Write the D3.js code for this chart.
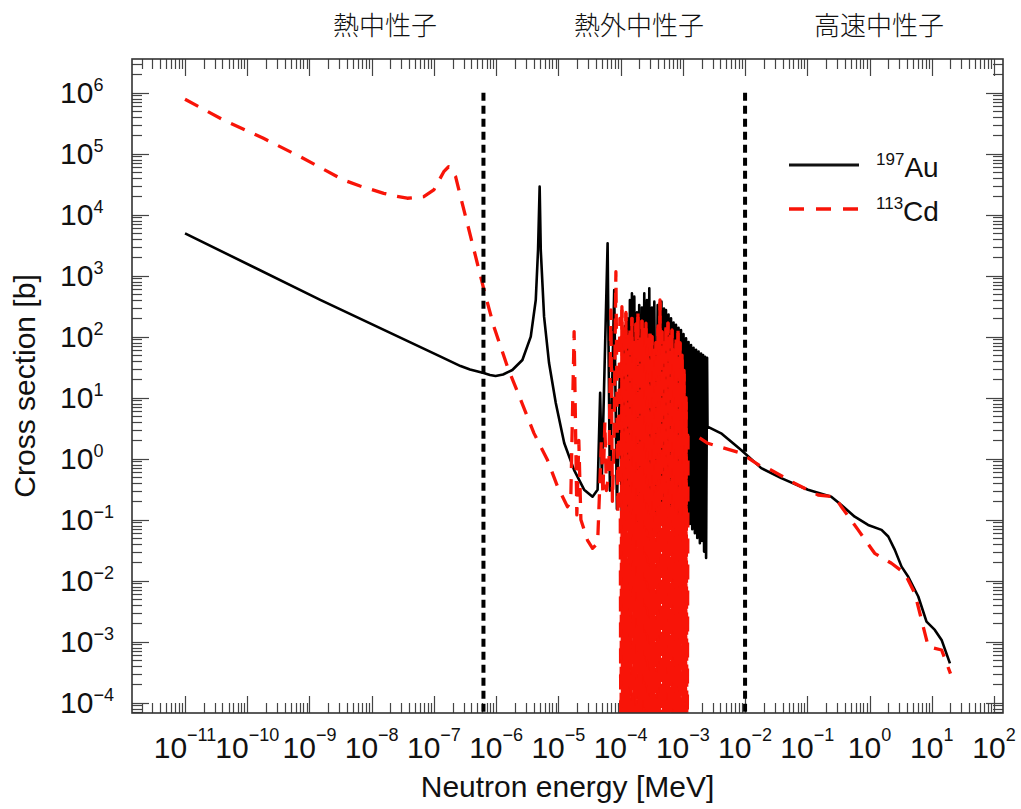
<!DOCTYPE html>
<html><head><meta charset="utf-8">
<script src="https://cdn.jsdelivr.net/npm/d3@7"></script>
<style>body{margin:0;background:#fff}svg{display:block}</style>
</head><body>
<svg id="chart" width="1021" height="809"></svg>
<script>
// ---------------- DATA ----------------
const xTickExps = [-11,-10,-9,-8,-7,-6,-5,-4,-3,-2,-1,0,1,2];
const yTickExps = [-4,-3,-2,-1,0,1,2,3,4,5,6];
const regionLabels = ["熱中性子", "熱外中性子", "高速中性子"];
const regionBounds = [6.25e-7, 1e-2];          // MeV
const seriesNames = [["197", "Au"], ["113", "Cd"]];

// 197Au : [energy MeV, cross section b]
const auLow = [[1e-11,4950],[1.49e-9,400],[1.28e-7,47],[2.68e-7,33],[3.8e-7,29],[6.3e-7,25.4],[7.96e-7,23.6],
  [9.8e-7,22.7],[1.29e-6,24.0],[1.82e-6,28.4],[2.64e-6,41.5],[3.6e-6,100],[4.33e-6,400],[4.71e-6,2640],[5.0e-6,28800],[5.21e-6,2640],
  [5.89e-6,213],[7.08e-6,37],[9.08e-6,8.2],[1.24e-5,1.81],[1.79e-5,0.65],[2.59e-5,0.31],[3.54e-5,0.238],[4.27e-5,0.31]];
const auForest = [[4.69e-5,12],[5.0e-5,0.5],[6.18e-5,3400],[6.73e-5,0.3],[7.89e-5,584],[8.72e-5,0.15],
  [9.74e-5,28],[1.05e-4,0.07],[1.17e-4,150],[1.23e-4,0.08],[1.29e-4,200],[1.35e-4,0.09],[1.41e-4,400],
  [1.47e-4,0.08],[1.52e-4,514],[1.59e-4,0.1],[1.66e-4,453],[1.74e-4,0.08],[1.83e-4,250],[1.91e-4,0.09],
  [1.99e-4,331],[2.09e-4,0.08],[2.20e-4,300],[2.30e-4,0.1],[2.40e-4,514],[2.52e-4,0.08],[2.65e-4,400],
  [2.77e-4,0.09],[2.89e-4,621],[3.03e-4,0.08],[3.19e-4,300],[3.34e-4,0.1],[3.48e-4,375],[3.70e-4,0.08],
  [3.94e-4,331],[4.12e-4,0.09],[4.29e-4,250],[4.42e-4,0.1],[4.54e-4,375],[4.76e-4,0.08],[4.98e-4,290],
  [5.17e-4,0.09],[5.36e-4,274],[5.61e-4,0.08],[5.89e-4,230],[6.18e-4,0.1],[6.46e-4,200],[6.75e-4,0.08],
  [7.09e-4,170],[7.43e-4,0.09],[7.77e-4,156],[8.13e-4,0.08],[8.53e-4,140],[8.95e-4,0.1],[9.35e-4,129],
  [9.78e-4,0.08],[1.026e-3,110],[1.077e-3,0.09],[1.126e-3,94],[1.177e-3,0.08],[1.235e-3,82],[1.296e-3,0.085],
  [1.355e-3,73],[1.417e-3,0.07],[1.487e-3,66],[1.561e-3,0.06],[1.632e-3,61],[1.706e-3,0.05],[1.79e-3,57],
  [1.878e-3,0.041],[1.964e-3,53],[2.038e-3,0.045],[2.115e-3,50],[2.195e-3,0.03],[2.278e-3,47],
  [2.364e-3,0.0235],[2.453e-3,45],[2.49e-3,3.35]];
const auHigh = [[4.12e-3,2.6],[8.65e-3,1.39],[0.0182,0.70],[0.0381,0.48],[0.1026,0.31],[0.243,0.238],
  [0.353,0.174],[0.578,0.112],[0.949,0.082],[1.56,0.068],[2.0,0.053],[2.55,0.032],[3.27,0.017],
  [4.19,0.0116],[6.07,0.0055],[8.24,0.00213],[11.2,0.00156],[14.4,0.00107],[19.6,4.4e-4]];

// 113Cd : [energy MeV, cross section b]
const cdLow = [[1e-11,7.8e5],[4.14e-11,3.57e5],[1.82e-10,1.79e5],[7.1e-10,8.9e4],[3.54e-9,3.7e4],[6.49e-9,2.95e4],
  [1.56e-8,2.24e4],[2.37e-8,2.02e4],[3.72e-8,1.86e4],[6.87e-8,1.97e4],[9.95e-8,2.54e4],[1.44e-7,5.07e4],[1.72e-7,6.1e4],
  [2.23e-7,4.2e4],[2.68e-7,1.97e4],[3.44e-7,7.2e3],[4.98e-7,1.6e3],[6.37e-7,584],[9.2e-7,146],
  [1.52e-6,32],[2.48e-6,9.2],[4.06e-6,2.6],[6.68e-6,0.95],[9.68e-6,0.35],[1.40e-5,0.163],[1.58e-5,0.2],
  [1.79e-5,121],[1.98e-5,0.12],[2.13e-5,2],[2.3e-5,0.1],[2.94e-5,0.046],[3.54e-5,0.034],[4.27e-5,0.041]];
const cdForest = [[4.64e-5,0.4],[4.91e-5,2.0],[5.19e-5,0.25],[5.59e-5,4],[5.91e-5,0.3],[6.48e-5,0.6],
  [6.98e-5,274],[7.38e-5,0.2],[7.80e-5,1.5],[8.40e-5,1164],[9.05e-5,0.12],[9.74e-5,200],[1.0113e-4,1e-6],
  [1.0495e-4,310],[1.0891e-4,3e-8],[1.1303e-4,150],[1.173e-4,5e-7],[1.2173e-4,250],[1.2633e-4,2e-9],
  [1.311e-4,100],[1.3605e-4,1e-7],[1.4119e-4,129],[1.4652e-4,4e-6],[1.5206e-4,200],[1.578e-4,6e-8],
  [1.6376e-4,80],[1.6995e-4,8e-7],[1.7637e-4,160],[1.8303e-4,1e-8],[1.8995e-4,242],[1.9712e-4,2e-6],
  [2.0457e-4,100],[2.123e-4,2e-7],[2.2032e-4,180],[2.2864e-4,5e-9],[2.3728e-4,130],[2.4624e-4,9e-7],
  [2.5554e-4,166],[2.652e-4,4e-8],[2.7521e-4,90],[2.8561e-4,3e-6],[2.964e-4,120],[3.076e-4,1.5e-7],
  [3.1922e-4,100],[3.3128e-4,7e-9],[3.4379e-4,60],[3.5678e-4,6e-7],[3.7026e-4,80],[3.8425e-4,2e-8],
  [3.9877e-4,150],[4.1383e-4,1.2e-6],[4.2946e-4,400],[4.4569e-4,8e-8],[4.6252e-4,120],[4.8e-4,3e-9],
  [4.9813e-4,90],[5.1695e-4,2.5e-6],[5.3648e-4,150],[5.5675e-4,5e-8],[5.7778e-4,166],[5.9961e-4,4e-7],
  [6.2226e-4,100],[6.4577e-4,1e-8],[6.7017e-4,129],[6.9549e-4,1.5e-6],[7.2176e-4,60],[7.4903e-4,9e-8],
  [7.7733e-4,90],[8.067e-4,6e-9],[8.3717e-4,129],[8.688e-4,7e-7],[9.0162e-4,80],[9.3568e-4,3e-8],
  [9.7103e-4,50],[1.0077e-3,2e-6],[1.0458e-3,28],[1.0853e-3,1e-7],[1.1263e-3,10],[1.1688e-3,5e-7],
  [1.213e-3,2.4]];
const cdHigh = [[1.73e-3,2.3],[2.52e-3,1.79],[8.65e-3,1.23],[0.0182,0.74],[0.0232,0.70],[0.0624,0.395],
  [0.149,0.254],[0.275,0.238],[0.353,0.163],[0.656,0.068],[1.21,0.0281],[2.25,0.0193],[3.69,0.0132],
  [5.35,0.0062],[6.85,0.00227],[8.79,8.3e-4],[14.4,7.3e-4],[20,3.0e-4]];

// ---------------- LAYOUT ----------------
const svg = d3.select("#chart");
const L = 132, R = 1003, T = 59, B = 713;
const FONT = "'Liberation Sans', Arial, Helvetica, sans-serif";
const RED = "#f81408";

const x = d3.scaleLog().domain([Math.pow(10,-11.852), Math.pow(10,2.145)]).range([L, R]);
const y = d3.scaleLog().domain([Math.pow(10,-4.169), Math.pow(10,6.552)]).range([B, T]);

// ticks
const xMajor = xTickExps.map(e => Math.pow(10, e));
const yMajor = yTickExps.map(e => Math.pow(10, e));
function minors(scale, e0, e1) {
  const out = [], [a, b] = scale.domain();
  for (let e = e0; e <= e1; e++) for (let m = 2; m <= 9; m++) {
    const v = m * Math.pow(10, e); if (v > a && v < b) out.push(v);
  }
  return out;
}
const xMinor = minors(x, -12, 2), yMinor = minors(y, -5, 6);
const tickG = svg.append("g").attr("stroke", "#444").attr("stroke-width", 1.2);
const MAJ = 17, MIN = 10;
[[xMajor, MAJ], [xMinor, MIN]].forEach(([vals, len]) => {
  vals.forEach(v => {
    const px = Math.round(x(v)) + 0.5;
    tickG.append("line").attr("x1", px).attr("x2", px).attr("y1", B).attr("y2", B - len);
    tickG.append("line").attr("x1", px).attr("x2", px).attr("y1", T).attr("y2", T + len);
  });
});
[[yMajor, MAJ], [yMinor, MIN]].forEach(([vals, len]) => {
  vals.forEach(v => {
    const py = Math.round(y(v)) + 0.5;
    tickG.append("line").attr("y1", py).attr("y2", py).attr("x1", L).attr("x2", L + len);
    tickG.append("line").attr("y1", py).attr("y2", py).attr("x1", R).attr("x2", R - len);
  });
});

// tick labels
const fmtExp = e => (e < 0 ? "\u2212" + (-e) : "" + e);
xTickExps.forEach(e => {
  const t = svg.append("text").attr("x", x(Math.pow(10, e))).attr("y", 758)
    .attr("text-anchor", "middle").attr("font-family", FONT).attr("font-size", 30).attr("fill", "#111");
  t.append("tspan").text("10");
  t.append("tspan").attr("dy", -17).attr("font-size", 18).text(fmtExp(e));
});
yTickExps.forEach(e => {
  const t = svg.append("text").attr("x", 60).attr("y", y(Math.pow(10, e)) + 10.6)
    .attr("text-anchor", "start").attr("font-family", FONT).attr("font-size", 30).attr("fill", "#111");
  t.append("tspan").text("10");
  t.append("tspan").attr("dy", -12).attr("font-size", 18).text(fmtExp(e));
});

// axis titles
svg.append("text").attr("x", (L + R) / 2).attr("y", 797).attr("text-anchor", "middle")
  .attr("font-family", FONT).attr("font-size", 30).attr("fill", "#111").text("Neutron energy [MeV]");
svg.append("text").attr("transform", `translate(35,${(T + B) / 2}) rotate(-90)`).attr("text-anchor", "middle")
  .attr("font-family", FONT).attr("font-size", 30).attr("fill", "#111").text("Cross section [b]");

// region labels (Japanese)
const regionLabelX = [385, 639, 879];
regionLabels.forEach((s, i) => {
  svg.append("text").attr("x", regionLabelX[i]).attr("y", 35).attr("text-anchor", "middle")
    .attr("font-family", "'Noto Sans CJK JP', sans-serif").attr("font-weight", 300)
    .attr("font-size", 26).attr("fill", "#111").text(s);
});

// curves
svg.append("clipPath").attr("id", "plotclip").append("rect")
  .attr("x", L).attr("y", T).attr("width", R - L).attr("height", B - T);
const plotG = svg.append("g").attr("clip-path", "url(#plotclip)");
const line = d3.line().x(d => x(d[0])).y(d => y(d[1]));
const auData = auLow.concat(auForest, auHigh);
const cdData = cdLow.concat(cdForest, cdHigh);
plotG.append("path").attr("d", line(auData)).attr("fill", "none")
  .attr("stroke", "#000").attr("stroke-width", 2.6).attr("stroke-linejoin", "round");
plotG.append("path").attr("d", line(cdData)).attr("fill", "none")
  .attr("stroke", RED).attr("stroke-width", 3.3).attr("stroke-dasharray", "15,11")
  .attr("stroke-linejoin", "round");
// dense part of the Cd resonance forest: second dash phase so the packed dashes read as a solid band
const cdDense = cdForest.filter(d => d[0] >= 1.0113e-4 && d[0] <= 1.1688e-3);
plotG.append("path").attr("d", line(cdDense)).attr("fill", "none")
  .attr("stroke", RED).attr("stroke-width", 3.3).attr("stroke-dasharray", "15,11")
  .attr("stroke-dashoffset", 13).attr("stroke-linejoin", "round");

// region boundaries
regionBounds.forEach(v => {
  svg.append("line").attr("x1", x(v)).attr("x2", x(v)).attr("y1", y(1e6)).attr("y2", B)
    .attr("stroke", "#000").attr("stroke-width", 4).attr("stroke-dasharray", "8,5");
});

// frame
svg.append("rect").attr("x", L).attr("y", T).attr("width", R - L).attr("height", B - T)
  .attr("fill", "none").attr("stroke", "#333").attr("stroke-width", 1.6);

// legend
const legY = [165, 209];
const legStyles = [{stroke: "#111", dash: null, w: 3}, {stroke: RED, dash: "15,12", w: 3.3}];
seriesNames.forEach((n, i) => {
  const st = legStyles[i];
  svg.append("line").attr("x1", 789).attr("x2", 859).attr("y1", legY[i]).attr("y2", legY[i])
    .attr("stroke", st.stroke).attr("stroke-width", st.w).attr("stroke-dasharray", st.dash);
  const t = svg.append("text").attr("x", 876).attr("y", legY[i] + 12)
    .attr("font-family", FONT).attr("font-size", 28).attr("fill", "#111");
  t.append("tspan").attr("font-size", 17).attr("dy", -12).text(n[0]);
  t.append("tspan").attr("dy", 12).text(n[1]);
});
</script>
</body></html>
